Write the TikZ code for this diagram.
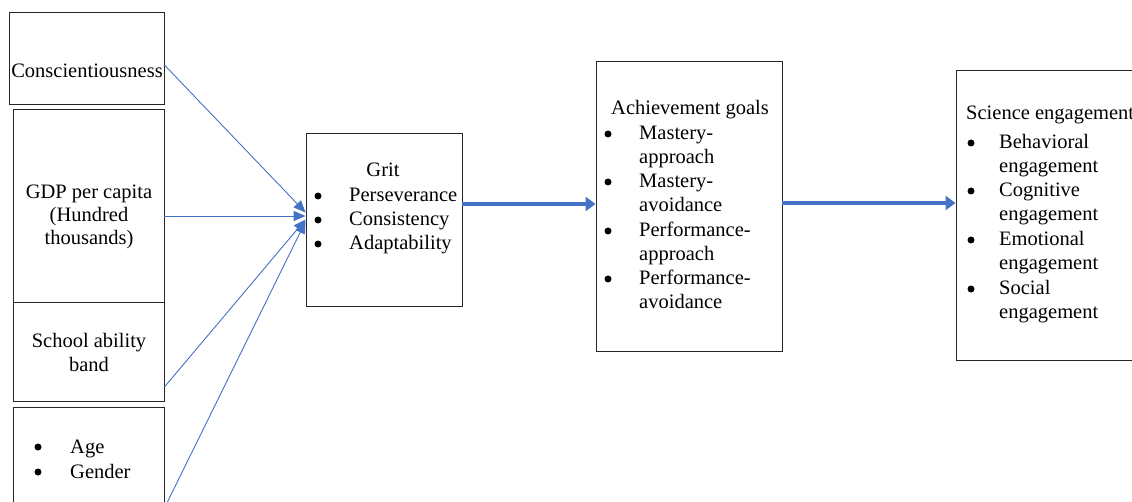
\documentclass[tikz,border=0pt]{standalone}
\usepackage{fontspec}
\setmainfont{LiberationSerif}[Extension=.ttf, UprightFont=*-Regular]
\usetikzlibrary{arrows.meta}
\definecolor{wordblue}{HTML}{4472C4}
\begin{document}
\begin{tikzpicture}[x=1pt,y=-1pt,
  box/.style={draw=black!85, line width=0.9pt, fill=white, inner sep=0pt},
  txt/.style={inner sep=0pt, anchor=base west, font=\fontsize{20.5}{24}\selectfont},
  ctxt/.style={inner sep=0pt, anchor=base, font=\fontsize{20.5}{24}\selectfont},
  dot/.style={circle, fill=black, inner sep=0pt, minimum size=7pt},
  thin/.style={draw=wordblue, line width=0.9pt, -{Triangle[length=12pt,width=10pt]}},
  thick/.style={draw=wordblue, line width=4.5pt, -{Triangle[length=10pt,width=14pt]}}]
\clip (0,0) rectangle (1132,502);
\fill[white] (0,0) rectangle (1132,502);

% left-hand predictor boxes
\node[box, minimum width=155pt, minimum height=92pt] (consc) at (86.5,58) {};
\node[box, minimum width=151pt, minimum height=211pt] (gdp) at (88.5,214.5) {};
\node[box, minimum width=151pt, minimum height=99pt] (school) at (88.5,351.5) {};
\node[box, minimum width=151pt, minimum height=133pt] (age) at (88.5,473.5) {};

% mediators and outcome
\node[box, minimum width=156pt, minimum height=173pt] (grit) at (384,219.5) {};
\node[box, minimum width=186pt, minimum height=290pt] (goals) at (689,206) {};
\node[box, minimum width=204pt, minimum height=290pt] (sci) at (1058,215) {};

% box texts
\node[ctxt] (t1) at (87,78) {Conscientiousness};
\node[ctxt] (t2) at (89,199) {GDP per capita};
\node[ctxt] (t3) at (89,222) {(Hundred};
\node[ctxt] (t4) at (89,245) {thousands)};
\node[ctxt] (t5) at (89,348) {School ability};
\node[ctxt] (t6) at (89,371) {band};
\node[dot] (b1) at (38,447) {};
\node[txt] (t7) at (70,453) {Age};
\node[dot] (b2) at (38,472) {};
\node[txt] (t8) at (70,478) {Gender};

\node[ctxt] (g0) at (383,177) {Grit};
\foreach \y/\w [count=\i] in {202/Perseverance,226/Consistency,250/Adaptability}{
  \node[dot] (gb\i) at (318,\y-6) {};
  \node[txt] (g\i) at (349,\y) {\w};
}

\node[txt] (a0) at (611,115) {Achievement goals};
\foreach \y/\w [count=\i] in {140/Mastery-,188/Mastery-,237/Performance-,285/Performance-}{
  \node[dot] (ab\i) at (608,\y-6) {};
  \node[txt] (a\i) at (639,\y) {\w};
}
\foreach \y/\w [count=\i] in {164/approach,212/avoidance,261/approach,309/avoidance}{
  \node[txt] (aa\i) at (639,\y) {\w};
}

\node[txt] (s0) at (966,120) {Science engagement};
\foreach \y/\w [count=\i] in {149/Behavioral,197/Cognitive,246/Emotional,295/Social}{
  \node[dot] (sb\i) at (971,\y-6) {};
  \node[txt] (s\i) at (999,\y) {\w};
}
\foreach \y [count=\i] in {173,221,270,319}{
  \node[txt] (se\i) at (999,\y) {engagement};
}

% paths into grit
\coordinate (gin1) at ([yshift=7pt]grit.west);
\coordinate (gin2) at ([yshift=3.5pt]grit.west);
\coordinate (gin3) at ([yshift=0pt]grit.west);
\coordinate (gin4) at ([yshift=-2pt]grit.west);
\draw[thin] ([yshift=-7pt]consc.east) -- (gin1);
\draw[thin] ([yshift=-1.5pt]gdp.east) -- (gin2);
\draw[thin] ([yshift=-35.5pt]school.east) -- (gin3);
\draw[thin] ([yshift=-34.5pt]age.east) -- (gin4);

% main chain
\draw[thick] ([yshift=15.5pt]grit.east) -- ([yshift=15.5pt]grit.east -| goals.west);
\draw[thick] ([yshift=3pt]goals.east) -- ([yshift=3pt]goals.east -| sci.west);
\end{tikzpicture}
\end{document}
